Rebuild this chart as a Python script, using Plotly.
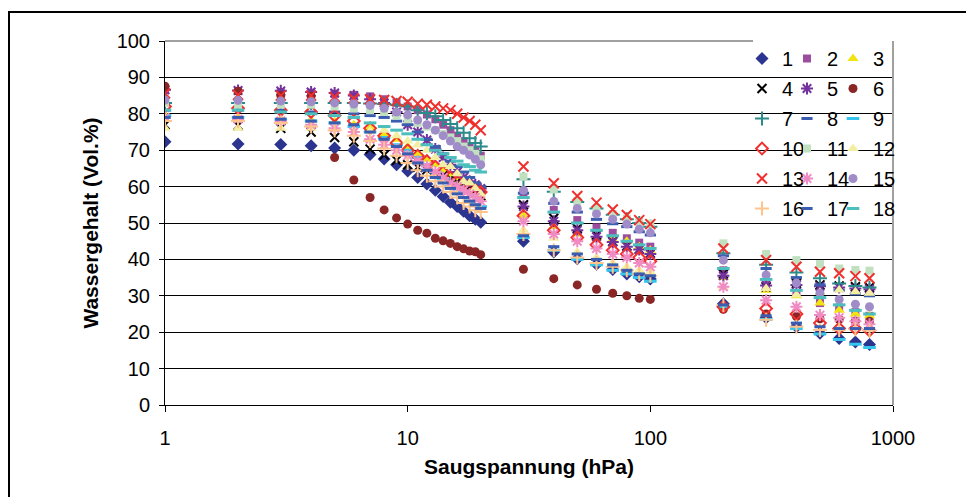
import plotly.graph_objects as go

# Saugspannung (hPa)
X = [1, 2, 3, 4, 5, 6, 7, 8, 9, 10, 11, 12, 13, 14, 15, 16, 17, 18, 19, 20,
     30, 40, 50, 60, 70, 80, 90, 100, 200, 300, 400, 500, 600, 700, 800]

# Wassergehalt (Vol.%) per sample
s1 = [72.3, 71.7, 71.6, 71.2, 70.6, 70.0, 68.8, 67.6, 66.0, 64.3, 62.5, 60.7, 59.0, 57.3, 55.7, 54.5, 53.2, 52.0, 51.0, 50.2,
      45.0, 42.0, 40.2, 38.7, 37.2, 36.0, 35.2, 34.6, 27.8, 24.0, 21.5, 19.7, 18.3, 17.3, 16.6]
s2 = [86.5, 86.3, 86.0, 85.8, 85.5, 85.2, 84.8, 84.0, 83.0, 82.0, 81.0, 79.8, 78.5, 77.0, 75.5, 74.0, 72.5, 71.0, 69.8, 68.5,
      58.3, 53.6, 50.8, 48.8, 47.3, 45.8, 44.6, 43.5, 37.0, 33.0, 30.5, 28.0, 26.8, 25.5, 24.5]
s3 = [79.5, 79.0, 78.5, 78.2, 77.8, 77.0, 76.0, 74.5, 73.0, 71.0, 69.0, 67.5, 66.0, 64.5, 63.0, 61.5, 60.2, 59.0, 58.0, 57.0,
      52.0, 49.0, 47.0, 46.0, 45.5, 45.0, 43.5, 42.5, 35.0, 31.5, 30.0, 28.0, 26.0, 25.0, 24.5]
s4 = [77.0, 76.8, 76.0, 75.0, 73.5, 72.3, 70.3, 68.7, 67.2, 66.0, 65.3, 64.6, 63.8, 63.0, 62.2, 61.3, 60.5, 59.5, 58.5, 57.5,
      55.0, 51.3, 48.5, 46.7, 44.9, 43.7, 42.8, 41.7, 36.0, 32.5, 33.4, 33.0, 32.7, 32.5, 32.3]
s5 = [86.6, 86.4, 86.3, 86.0, 85.7, 85.0, 84.0, 83.0, 80.5, 77.0, 75.0, 72.8, 70.3, 68.0, 66.0, 64.0, 62.5, 61.5, 60.5, 59.5,
      54.5, 50.5, 48.0, 46.2, 44.8, 43.5, 42.7, 41.5, 35.5, 32.8, 33.0, 32.6, 32.3, 32.0, 31.8]
s6 = [87.6, 86.2, 85.0, 84.8, 68.0, 61.8, 57.0, 53.6, 51.4, 49.7, 48.0, 47.2, 45.8, 45.1, 44.4, 43.5, 42.9, 42.3, 42.1, 41.3,
      37.3, 34.7, 33.0, 31.8, 30.7, 30.0, 29.3, 29.0, 26.3, 25.0, 24.3, 23.7, 23.5, 23.0, 23.0]
s7 = [83.0, 83.0, 83.0, 83.0, 83.0, 83.0, 82.8, 82.7, 82.5, 82.0, 81.0, 80.2, 79.3, 78.3, 77.2, 76.0, 74.8, 73.3, 72.0, 71.0,
      62.0, 58.6, 55.8, 54.0, 52.3, 51.0, 50.0, 49.0, 41.7, 38.5, 36.4, 34.8, 33.4, 32.7, 32.3]
s8 = [81.0, 81.0, 81.0, 80.5, 80.5, 80.0, 79.5, 79.0, 78.0, 77.0, 75.0, 73.0, 71.0, 69.0, 67.0, 65.5, 64.0, 62.5, 61.0, 60.0,
      58.2, 55.4, 53.0, 51.0, 49.8, 49.0, 47.6, 46.7, 41.0, 37.5, 35.0, 33.0, 31.5, 30.5, 30.0]
s9 = [79.5, 79.0, 78.5, 78.0, 77.5, 76.5, 75.0, 73.5, 71.5, 70.0, 68.0, 66.0, 64.0, 62.0, 60.0, 58.5, 57.0, 56.0, 55.0, 54.5,
      46.0, 42.5, 40.0, 38.5, 37.0, 36.0, 35.0, 34.0, 27.0, 23.5, 21.0, 19.5, 18.0, 16.7, 15.8]
s10 = [82.0, 81.5, 81.0, 80.5, 79.5, 78.0, 76.0, 74.0, 72.0, 70.0, 68.5, 67.0, 65.5, 64.0, 62.5, 61.5, 60.5, 59.5, 59.0, 58.5,
       52.0, 48.0, 46.0, 44.0, 42.5, 41.5, 40.5, 39.5, 27.0, 26.5, 25.0, 22.5, 21.0, 21.0, 20.5]
s11 = [83.0, 82.5, 82.5, 82.5, 82.0, 81.5, 81.0, 80.5, 79.5, 78.5, 77.5, 76.5, 75.5, 74.5, 73.5, 72.5, 71.0, 70.0, 69.0, 67.5,
       62.7, 59.2, 56.0, 54.0, 52.5, 51.2, 50.3, 49.8, 44.4, 41.5, 39.8, 38.7, 37.5, 37.1, 36.9]
s12 = [76.0, 76.0, 76.0, 76.0, 75.8, 75.5, 75.3, 75.5, 74.0, 72.5, 71.4, 70.0, 68.0, 66.0, 65.5, 63.5, 61.4, 61.0, 59.5, 58.0,
       48.0, 45.8, 42.0, 40.5, 39.0, 38.0, 37.0, 36.5, 32.5, 32.0, 30.2, 31.0, 31.6, 31.1, 30.7]
s13 = [85.6, 85.2, 85.0, 85.0, 84.6, 84.2, 84.0, 83.8, 83.5, 83.3, 82.8, 82.5, 82.0, 81.5, 81.0, 80.0, 79.0, 78.0, 77.0, 75.5,
       65.5, 60.9, 57.4, 55.6, 53.7, 52.2, 50.8, 49.7, 43.0, 39.8, 38.0, 36.6, 36.2, 35.4, 34.8]
s14 = [79.0, 78.5, 78.0, 77.0, 76.0, 75.0, 73.0, 71.5, 70.0, 68.5, 67.0, 65.5, 64.0, 62.5, 61.0, 60.0, 59.0, 58.0, 57.0, 56.0,
       50.5, 47.0, 45.0, 43.0, 41.5, 40.5, 39.0, 38.0, 32.5, 28.8, 27.0, 24.7, 24.0, 23.0, 22.2]
s15 = [83.8, 83.7, 83.5, 83.3, 83.0, 82.7, 82.3, 81.5, 80.5, 79.7, 78.3, 77.0, 75.5, 74.0, 72.5, 71.0, 70.0, 68.7, 67.5, 66.0,
       59.0, 56.0, 54.0, 52.5, 51.0, 49.7, 48.3, 47.3, 39.8, 35.7, 33.5, 30.7, 29.0, 27.7, 27.0]
s16 = [78.0, 78.0, 77.5, 76.5, 75.5, 74.0, 72.5, 70.5, 68.5, 66.5, 64.5, 63.0, 61.5, 60.0, 58.5, 57.0, 55.5, 54.5, 53.5, 53.0,
       47.0, 42.5, 40.5, 39.0, 38.0, 37.0, 36.0, 35.5, 27.5, 23.4, 21.5, 20.6, 20.6, 20.8, 20.5]
s17 = [79.0, 79.0, 78.5, 78.0, 77.5, 77.0, 75.0, 73.0, 71.0, 69.0, 66.5, 64.5, 62.5, 61.0, 59.5, 58.0, 57.0, 56.0, 55.0, 54.0,
       46.5, 43.5, 41.5, 40.0, 38.5, 37.0, 36.0, 35.5, 27.5, 24.5, 22.5, 21.5, 21.0, 21.0, 21.0]
s18 = [81.0, 81.0, 80.5, 80.0, 79.5, 79.0, 77.5, 76.5, 75.5, 74.5, 73.0, 71.5, 70.0, 69.0, 68.0, 67.0, 66.0, 65.5, 64.5, 64.0,
       57.0, 53.0, 50.0, 48.0, 46.5, 45.0, 44.0, 43.0, 37.5, 34.5, 31.5, 29.5, 27.5, 26.0, 25.0]

names = [str(i) for i in range(1, 19)]
values = [s1, s2, s3, s4, s5, s6, s7, s8, s9, s10, s11, s12, s13, s14, s15, s16, s17, s18]

colors = ["#2B3590", "#9C4E9E", "#F2E411", "#000000", "#74329C", "#8A2626",
          "#2A8C8A", "#3A5DB0", "#35C4EC", "#F0302E", "#C0E0C0", "#F2EEA2",
          "#F0302E", "#F08CC4", "#A08CC8", "#FFC48C", "#3A5DB0", "#4CBEBE"]
symbols = ["diamond", "square", "triangle-up", "x-thin", "asterisk", "circle",
           "cross-thin", "line-ew", "line-ew", "diamond-open", "square", "triangle-up",
           "x-thin", "asterisk", "circle", "cross-thin", "line-ew", "line-ew"]
sizes = [10, 8, 10, 9, 10, 9, 10, 8, 9, 9, 8, 10, 10, 10, 9, 10, 8, 9]
lwidths = [0, 0, 0, 2, 2, 0, 2, 3, 3, 2, 0, 0, 2, 2, 0, 2, 3, 3]

FONT = "Liberation Sans, Arial, sans-serif"
legend_ids = ["legend", "legend2", "legend3"]

fig = go.Figure()
for i in range(18):
    fig.add_trace(go.Scatter(
        x=X, y=values[i], mode="markers", name=names[i],
        legend=legend_ids[i % 3], legendgroup=names[i],
        marker=dict(symbol=symbols[i], size=sizes[i], color=colors[i],
                    line=dict(color=colors[i], width=lwidths[i])),
    ))

# page is drawn with an 8 px body offset
OFF = 8
W, H = 974 - OFF, 497 - OFF
L, R, T, B = 157, 81, 33, 92
pw, ph = W - L - R, H - T - B

def px_x(p):
    return (p - OFF - L) / pw

def px_y(p):
    return (H - B - (p - OFF)) / ph

leg_common = dict(y=px_y(39), yanchor="top", xanchor="left", bgcolor="rgba(0,0,0,0)",
                  font=dict(family=FONT, size=20, color="black"),
                  traceorder="grouped", tracegroupgap=1, itemwidth=30, borderwidth=0)

fig.update_layout(
    width=W, height=H,
    margin=dict(l=L, r=R, t=T, b=B, autoexpand=False),
    paper_bgcolor="white", plot_bgcolor="white",
    font=dict(family=FONT, color="black"),
    showlegend=True,
    legend=dict(x=px_x(742), **leg_common),
    legend2=dict(x=px_x(787), **leg_common),
    legend3=dict(x=px_x(833), **leg_common),
    xaxis=dict(type="log", range=[0, 3], tickvals=[1, 10, 100, 1000],
               ticktext=["1", "10", "100", "1000"], ticks="outside", ticklen=6,
               tickcolor="black", showline=True, linecolor="black", linewidth=1,
               showgrid=False, zeroline=False, ticklabelstandoff=9,
               tickfont=dict(family=FONT, size=20, color="black"),
               title=dict(text="<b>Saugspannung (hPa)</b>", standoff=11,
                          font=dict(family=FONT, size=21, color="black")),
               automargin=False),
    yaxis=dict(range=[0, 100], dtick=10, ticks="outside", ticklen=5, tickcolor="black",
               showline=True, linecolor="black", linewidth=1,
               showgrid=True, gridcolor="black", gridwidth=1, zeroline=False,
               ticklabelstandoff=5,
               tickfont=dict(family=FONT, size=20, color="black"),
               title=dict(text="<b>Wassergehalt (Vol.%)</b>", standoff=12,
                          font=dict(family=FONT, size=21, color="black")),
               automargin=False),
    shapes=[
        dict(type="rect", xref="paper", yref="paper", x0=px_x(753), x1=0.998,
             y0=px_y(236), y1=1.01, fillcolor="white", line=dict(width=0), layer="between"),
        dict(type="line", xref="paper", yref="paper", x0=0, x1=px_x(753), y0=1, y1=1,
             line=dict(color="#A0A0A0", width=2)),
        dict(type="line", xref="paper", yref="paper", x0=1, x1=1, y0=0, y1=1,
             line=dict(color="#A0A0A0", width=2)),
        dict(type="rect", xref="paper", yref="paper", x0=px_x(9), x1=px_x(1010),
             y0=px_y(520), y1=px_y(12), line=dict(color="black", width=2),
             fillcolor="rgba(0,0,0,0)"),
    ],
)

fig.write_html("out.html")
